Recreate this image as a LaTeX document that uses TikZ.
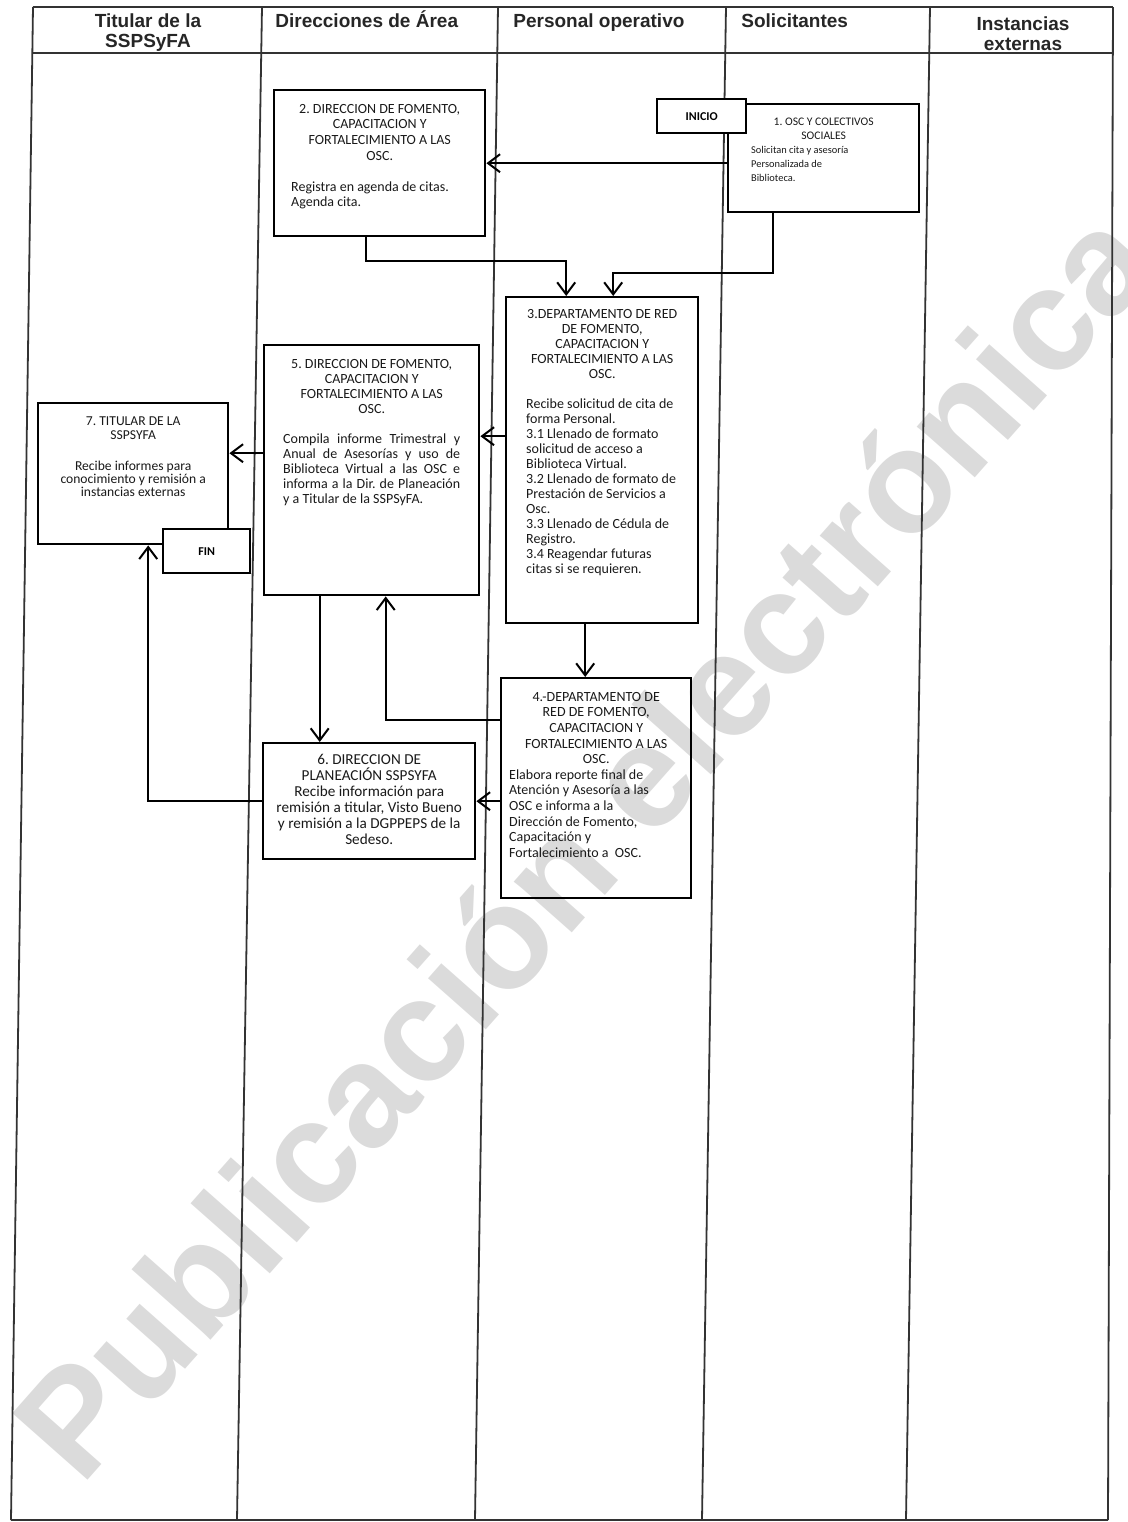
\documentclass[tikz,border=0pt]{standalone}
\usepackage{fontspec}
\setmainfont{Liberation Sans}
\newfontfamily\boxfont{Carlito}
\usetikzlibrary{arrows.meta}
\frenchspacing

\begin{document}
\begin{tikzpicture}[x=0.5pt, y=-0.5pt,
    flowbox/.style={draw, line width=1.2pt, anchor=north west, text=black!90,
        font=\boxfont\fontsize{7}{7.5}\selectfont},
    tagbox/.style={draw, line width=1.2pt, fill=white, anchor=north west, inner sep=0pt,
        font=\boxfont\bfseries\fontsize{6}{6}\selectfont},
    lane/.style={line width=0.9pt, black!80},
    lanehead/.style={inner sep=0pt, text=black!85, font=\bfseries\fontsize{9.5}{10.3}\selectfont},
    arr/.style={line width=1pt, -{Straight Barb[length=6pt, width=9pt, line width=1pt]}}
]
\useasboundingbox (0,0) rectangle (1128,1522);

\node[rotate=48.5, text=black!14, font=\bfseries\fontsize{73}{73}\selectfont] (sello) at (582,842) {Publicación electrónica};

\draw[lane] (33,7) -- (1113,7);
\draw[lane] (32,53) -- (1113,53);
\draw[lane] (11,1520) -- (1108,1520);
\foreach \xt/\xb in {33/11, 262/237, 498/475, 726/702, 930/906, 1113/1108}
    \draw[lane] (\xt,7) -- (\xb,1520);

\node[lanehead, align=center, anchor=north] (hTit) at (148,13) {Titular de la\\SSPSyFA};
\node[lanehead, anchor=base west] (hDir) at (275,27) {Direcciones de Área};
\node[lanehead, anchor=base west] (hPer) at (513,27) {Personal operativo};
\node[lanehead, anchor=base west] (hSol) at (741,27) {Solicitantes};
\node[lanehead, align=center, anchor=north] (hExt) at (1023,16) {Instancias\\externas};

\node[flowbox, inner xsep=11.5pt, inner ysep=7pt] (solic) at (727,103) {\parbox[t][40pt][t]{72.5pt}{%
    \centering\fontsize{5.8}{7}\selectfont 1. OSC Y COLECTIVOS\\ SOCIALES\par
    \raggedright\fontsize{5.2}{7}\selectfont Solicitan cita y asesoría\\ Personalizada de\\ Biblioteca.}};
\node[tagbox, minimum width=44.5pt, minimum height=17pt] (inicio) at (656,98) {INICIO};

\node[flowbox, inner xsep=8.5pt, inner ysep=7pt] (dirFom) at (273,89) {\parbox[t][59pt][t]{88.5pt}{%
    \centering\fontsize{7}{7.8}\selectfont 2. DIRECCION DE FOMENTO,\\ CAPACITACION Y\\ FORTALECIMIENTO A LAS\\ OSC.\par
    \vspace{7.8pt}\raggedright Registra en agenda de citas.\\ Agenda cita.}};

\node[flowbox, inner xsep=10pt, inner ysep=6pt] (depRed) at (505,296) {\parbox[t][151pt][t]{76pt}{%
    \centering 3.DEPARTAMENTO DE RED\\ DE FOMENTO,\\ CAPACITACION Y\\ FORTALECIMIENTO A LAS\\ OSC.\par
    \vspace{7.5pt}\raggedright Recibe solicitud de cita de\\ forma Personal.\\ 3.1 Llenado de formato\\
    solicitud de acceso a\\ Biblioteca Virtual.\\ 3.2 Llenado de formato de\\ Prestación de Servicios a\\
    Osc.\\ 3.3 Llenado de Cédula de\\ Registro.\\ 3.4 Reagendar futuras\\ citas si se requieren.}};

\node[flowbox, inner xsep=4pt, inner ysep=7pt] (depRep) at (500,677) {\parbox[t][96pt][t]{87pt}{%
    \centering\fontsize{7}{7.8}\selectfont 4.-DEPARTAMENTO DE\\ RED DE FOMENTO,\\ CAPACITACION Y\\ FORTALECIMIENTO A LAS\\ OSC.\par
    \raggedright Elabora reporte final de\\ Atención y Asesoría a las\\ OSC e informa a la\\
    Dirección de Fomento,\\ Capacitación y\\ Fortalecimiento a\ \ OSC.}};

\node[flowbox, inner xsep=9.5pt, inner ysep=7pt] (dirInf) at (263,344) {\parbox[t][111pt][t]{88.5pt}{%
    {\centering 5. DIRECCION DE FOMENTO,\\ CAPACITACION Y\\ FORTALECIMIENTO A LAS\\ OSC.\par}
    \vspace{7.5pt}Compila informe Trimestral y\linebreak Anual de Asesorías y uso de\linebreak
    Biblioteca Virtual a las OSC e\linebreak informa a la Dir. de Planeación\linebreak y a Titular de la SSPSyFA.}};

\node[flowbox, inner xsep=4pt, inner ysep=5.5pt] (dirPlan) at (262,742) {\parbox[t][47pt][t]{98pt}{%
    \centering\fontsize{7.6}{8}\selectfont 6. DIRECCION DE\\ PLANEACIÓN SSPSYFA\\ Recibe información para\\
    remisión a titular, Visto Bueno\\ y remisión a la DGPPEPS de la\\ Sedeso.}};

\node[flowbox, inner xsep=5pt, inner ysep=7pt] (titular) at (37,402) {\parbox[t][56.5pt][t]{85pt}{%
    \centering\fontsize{6.8}{6.6}\selectfont 7. TITULAR DE LA\\ SSPSYFA\par
    \vspace{9pt}Recibe informes para\\ conocimiento y remisión a\\ instancias externas}};
\node[tagbox, minimum width=43.5pt, minimum height=22pt] (fin) at (162,528) {FIN};

\coordinate (bendA) at (366,261);
\coordinate (bendB) at (773,273);
\draw[arr] (solic.west |- dirFom.east) -- (dirFom.east);
\draw[arr] (dirFom.south -| bendA) -- (bendA) -| ([xshift=-18pt]depRed.north);
\draw[arr] (solic.south -| bendB) -- (bendB) -| ([xshift=5.5pt]depRed.north);
\draw[arr] ([xshift=-8.5pt]depRed.south) -- ([xshift=-8.5pt]depRed.south |- depRep.north);
\draw[arr] ([yshift=12pt]depRed.west) -- ([yshift=12pt]depRed.west -| dirInf.east);
\draw[arr] ([yshift=8.5pt]dirInf.west) -- ([yshift=8.5pt]dirInf.west -| titular.east);
\draw[arr] ([yshift=34pt]depRep.west) -| ([xshift=7pt]dirInf.south);
\draw[arr] ([xshift=-26pt]dirInf.south) -- ([xshift=-26pt]dirInf.south |- dirPlan.north);
\draw[arr] (depRep.west |- dirPlan.east) -- (dirPlan.east);
\draw[arr] (dirPlan.west) -| ([xshift=7.5pt]titular.south);
\end{tikzpicture}
\end{document}
